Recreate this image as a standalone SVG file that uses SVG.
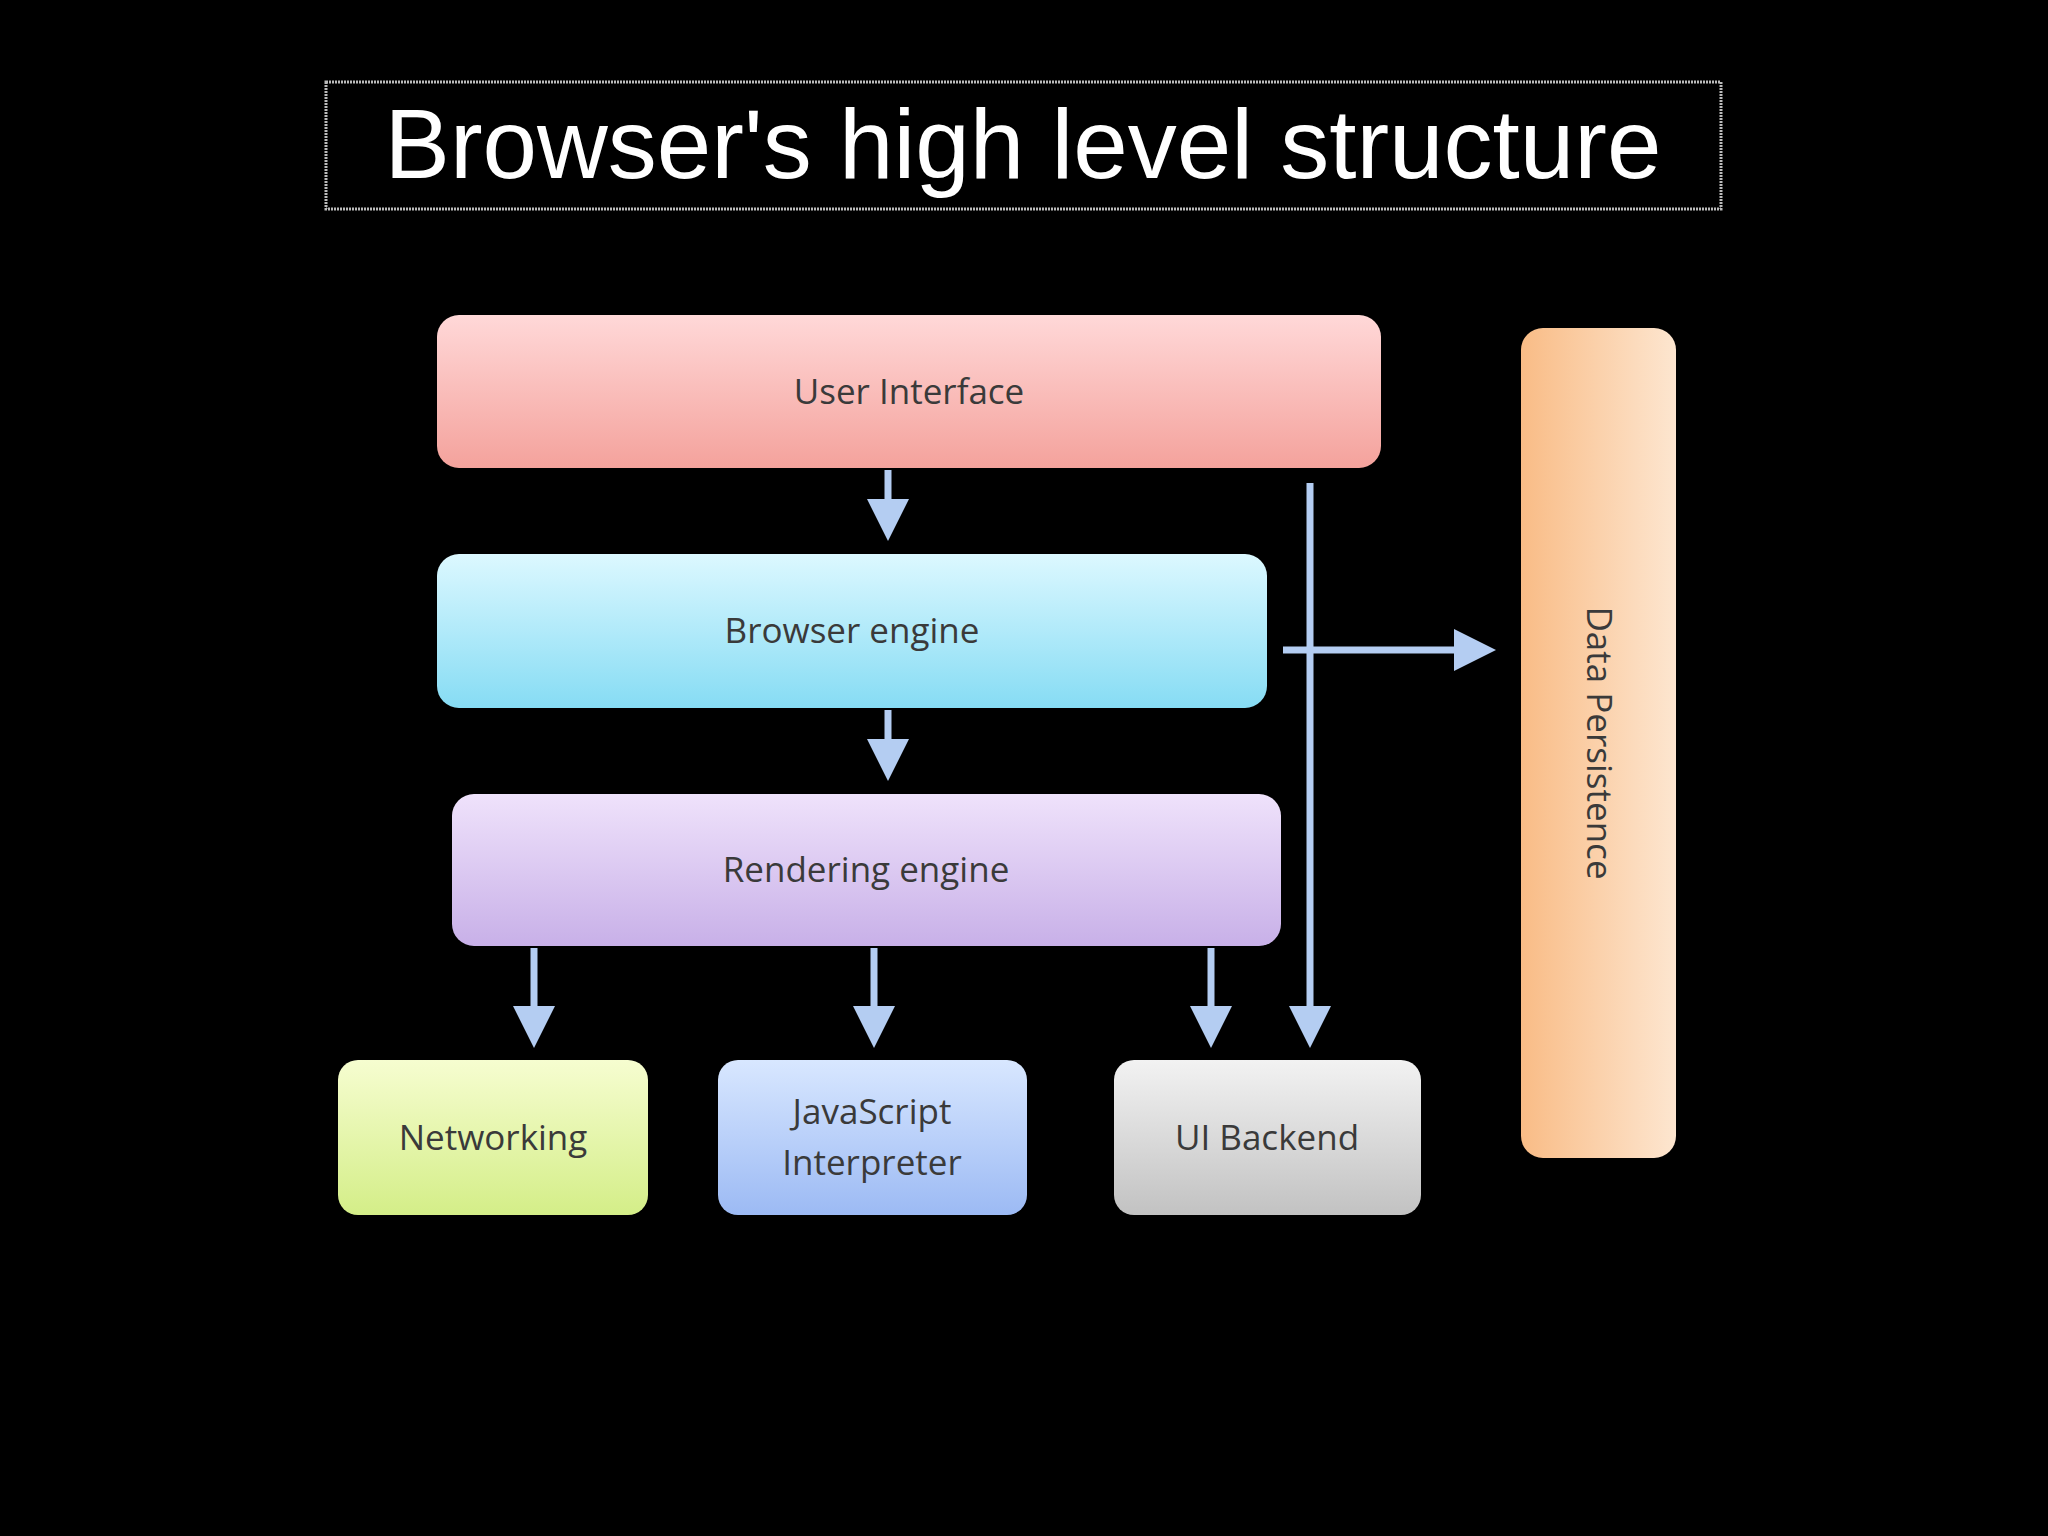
<svg xmlns="http://www.w3.org/2000/svg" width="2048" height="1536" viewBox="0 0 2048 1536">
<defs>
<linearGradient id="gUI" x1="0" y1="0" x2="0" y2="1"><stop offset="0" stop-color="#ffd8d8"/><stop offset="1" stop-color="#f4a29c"/></linearGradient>
<linearGradient id="gBE" x1="0" y1="0" x2="0" y2="1"><stop offset="0" stop-color="#dcf8ff"/><stop offset="1" stop-color="#86dcf4"/></linearGradient>
<linearGradient id="gRE" x1="0" y1="0" x2="0" y2="1"><stop offset="0" stop-color="#efe2fb"/><stop offset="1" stop-color="#c8b0e8"/></linearGradient>
<linearGradient id="gNW" x1="0" y1="0" x2="0" y2="1"><stop offset="0" stop-color="#f6fdd0"/><stop offset="1" stop-color="#d4ee88"/></linearGradient>
<linearGradient id="gJS" x1="0" y1="0" x2="0" y2="1"><stop offset="0" stop-color="#d8e7ff"/><stop offset="1" stop-color="#9cbaf4"/></linearGradient>
<linearGradient id="gUB" x1="0" y1="0" x2="0" y2="1"><stop offset="0" stop-color="#f2f2f2"/><stop offset="1" stop-color="#c2c2c2"/></linearGradient>
<linearGradient id="gDP" x1="0" y1="0" x2="1" y2="0"><stop offset="0" stop-color="#f9bc86"/><stop offset="1" stop-color="#fde6d0"/></linearGradient>
<marker id="ah" markerWidth="6" markerHeight="6" refX="3" refY="3" orient="auto" markerUnits="strokeWidth"><path d="M0,0 L6,3 L0,6 Z" fill="#b4cdf2"/></marker>
</defs>
<style>
.lbl{font-family:"Open Sans","Liberation Sans",sans-serif;font-size:35px;fill:#3a3a3a;text-anchor:middle}
.conn line{stroke:#b4cdf2;stroke-width:7}
</style>
<rect width="2048" height="1536" fill="#000"/>
<g id="title">
<rect x="326" y="82" width="1395" height="127" fill="none" stroke="#bbb" stroke-width="3" stroke-dasharray="2,1"/>
<text x="1023" y="178" font-family="Liberation Sans,Arial,sans-serif" font-size="98" fill="#fff" text-anchor="middle">Browser's high level structure</text>
</g>
<g id="ui"><rect x="437" y="315" width="944" height="153" rx="22" fill="url(#gUI)"/><text class="lbl" x="909" y="404">User  Interface</text></g>
<g id="be"><rect x="437" y="554" width="830" height="154" rx="22" fill="url(#gBE)"/><text class="lbl" x="852" y="643">Browser engine</text></g>
<g id="re"><rect x="452" y="794" width="829" height="152" rx="22" fill="url(#gRE)"/><text class="lbl" x="866" y="882">Rendering engine</text></g>
<g id="nw"><rect x="338" y="1060" width="310" height="155" rx="20" fill="url(#gNW)"/><text class="lbl" x="493" y="1150">Networking</text></g>
<g id="js"><rect x="718" y="1060" width="309" height="155" rx="20" fill="url(#gJS)"/><text class="lbl" x="872" y="1124">JavaScript</text><text class="lbl" x="872" y="1175">Interpreter</text></g>
<g id="ub"><rect x="1114" y="1060" width="307" height="155" rx="20" fill="url(#gUB)"/><text class="lbl" x="1267" y="1150">UI Backend</text></g>
<g id="dp"><rect x="1521" y="328" width="155" height="830" rx="22" fill="url(#gDP)"/><text class="lbl" transform="translate(1587,743) rotate(90)">Data Persistence</text></g>
<g class="conn">
<line x1="888" y1="470" x2="888" y2="520" marker-end="url(#ah)"/>
<line x1="888" y1="710" x2="888" y2="760" marker-end="url(#ah)"/>
<line x1="534" y1="948" x2="534" y2="1027" marker-end="url(#ah)"/>
<line x1="874" y1="948" x2="874" y2="1027" marker-end="url(#ah)"/>
<line x1="1211" y1="948" x2="1211" y2="1027" marker-end="url(#ah)"/>
<line x1="1310" y1="483" x2="1310" y2="1027" marker-end="url(#ah)"/>
<line x1="1283" y1="650" x2="1475" y2="650" marker-end="url(#ah)"/>
</g>
</svg>
